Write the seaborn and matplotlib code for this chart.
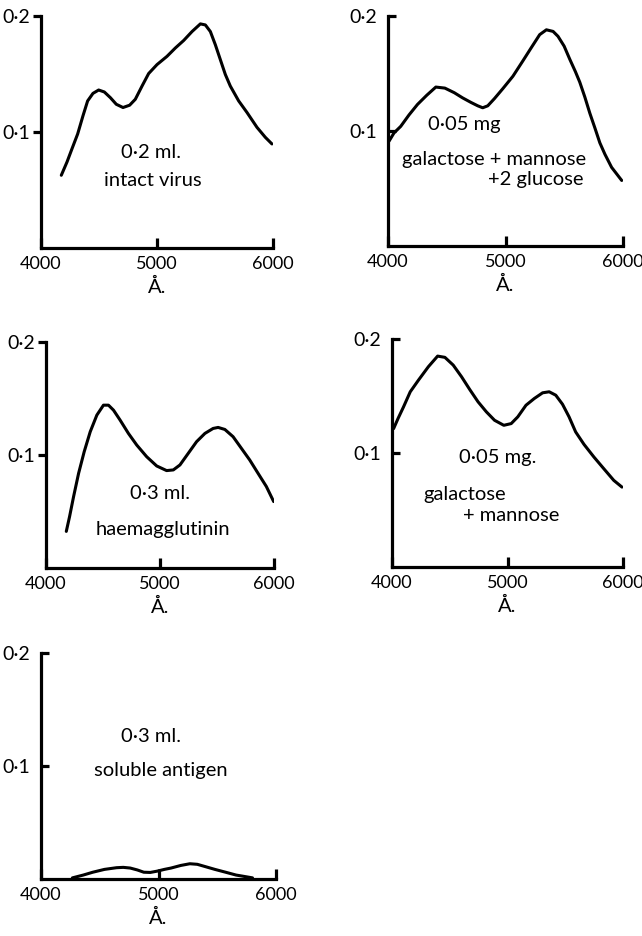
import matplotlib
matplotlib.use("Agg")
import matplotlib.pyplot as plt
import seaborn as sns
import pandas as pd

# ---- data ----
virus_x = [4175, 4224, 4267, 4316, 4362, 4402, 4448, 4497, 4546, 4598, 4649, 4707, 4764, 4813, 4871,
           4928, 5000, 5086, 5158, 5230, 5302, 5374, 5417, 5460, 5503, 5546, 5589, 5632, 5704, 5776,
           5862, 5934, 5991]
virus_y = [0.0627, 0.0741, 0.0855, 0.0983, 0.114, 0.1268, 0.1333, 0.1362, 0.1345, 0.1296, 0.1239,
           0.1211, 0.1231, 0.1282, 0.1396, 0.1504, 0.1581, 0.1652, 0.1724, 0.1789, 0.1866, 0.1932,
           0.1923, 0.1866, 0.1752, 0.1624, 0.1496, 0.1396, 0.1268, 0.1168, 0.1040, 0.0954, 0.0897]

galman_glu_x = [4009, 4051, 4108, 4179, 4251, 4330, 4407, 4484, 4564, 4635, 4707, 4764, 4806, 4849,
                4906, 4977, 5063, 5148, 5219, 5291, 5348, 5405, 5447, 5499, 5547, 5595, 5632, 5675,
                5718, 5761, 5803, 5846, 5903, 5946, 5989]
galman_glu_y = [0.0912, 0.0983, 0.1040, 0.1140, 0.1231, 0.1311, 0.1382, 0.1373, 0.1333, 0.1288,
                0.1248, 0.1219, 0.1202, 0.1219, 0.1282, 0.1368, 0.1476, 0.1610, 0.1724, 0.1838,
                0.1880, 0.1866, 0.1823, 0.1738, 0.1624, 0.1516, 0.1425, 0.1296, 0.1154, 0.1026,
                0.0897, 0.0798, 0.0684, 0.0627, 0.0570]

haem_x = [4178, 4207, 4242, 4286, 4335, 4388, 4446, 4504, 4548, 4592, 4650, 4723, 4796, 4883, 4971,
          5058, 5117, 5175, 5248, 5321, 5394, 5466, 5510, 5569, 5641, 5714, 5787, 5860, 5933, 5997]
haem_y = [0.0324, 0.0456, 0.0632, 0.0838, 0.1029, 0.1206, 0.1353, 0.1441, 0.1441, 0.1397, 0.1309,
          0.1191, 0.1088, 0.0985, 0.0903, 0.0862, 0.0868, 0.0912, 0.1015, 0.1118, 0.1191, 0.1235,
          0.1244, 0.1226, 0.1162, 0.1059, 0.0956, 0.0838, 0.0721, 0.0588]

galman_x = [4014, 4052, 4100, 4158, 4229, 4315, 4395, 4458, 4530, 4602, 4673, 4745, 4817, 4888, 4968,
            5032, 5089, 5160, 5232, 5304, 5361, 5418, 5476, 5533, 5590, 5662, 5748, 5834, 5920, 5991]
galman_y = [0.1214, 0.1302, 0.1405, 0.1537, 0.1639, 0.1757, 0.1850, 0.1839, 0.1771, 0.1669, 0.1557,
            0.1449, 0.1361, 0.1287, 0.1243, 0.1258, 0.1317, 0.1419, 0.1478, 0.1528, 0.1537, 0.1507,
            0.1428, 0.1317, 0.1185, 0.1076, 0.0965, 0.0862, 0.0760, 0.0701]

sol_x = [4267, 4360, 4441, 4540, 4643, 4700, 4759, 4820, 4875, 4930, 4991, 5050, 5107, 5190, 5267,
         5330, 5397, 5480, 5571, 5660, 5745, 5800]
sol_y = [0.001, 0.0035, 0.006, 0.0085, 0.010, 0.0103, 0.0097, 0.0080, 0.006, 0.0058, 0.007, 0.0085,
         0.0097, 0.0120, 0.0135, 0.0130, 0.011, 0.0085, 0.006, 0.0035, 0.002, 0.001]

x_ticks = [4000, 5000, 6000]
x_tick_labels = ["4000", "5000", "6000"]
y_ticks = [0.1, 0.2]
y_tick_labels = ["0·1", "0·2"]
x_unit = "Å."

sns.set_theme(style="white")
plt.rcParams["font.family"] = ["Lato", "DejaVu Sans"]

W, H = 642, 936
fig = plt.figure(figsize=(W / 100, H / 100), dpi=100)
fig.patch.set_facecolor("white")


def make_ax(l, r, t, b):
    return fig.add_axes([l / W, 1 - b / H, (r - l) / W, (b - t) / H])


panels = [
    ((41, 273, 16, 248), virus_x, virus_y,
     [(4950, 0.082, "0·2 ml."), (4960, 0.058, "intact virus")], "out"),
    ((388, 623, 16, 246), galman_glu_x, galman_glu_y,
     [(4650, 0.106, "0·05 mg"), (4906, 0.075, "galactose + mannose"),
      (5255, 0.058, "+2 glucose")], "in"),
    ((46, 274, 342, 568), haem_x, haem_y,
     [(5000, 0.066, "0·3 ml."), (5029, 0.034, "haemagglutinin")], "out"),
    ((392, 623, 339, 567), galman_x, galman_y,
     [(4917, 0.096, "0·05 mg."), (4630, 0.064, "galactose"),
      (5032, 0.045, "+ mannose")], "in"),
    ((41, 276, 653, 879), sol_x, sol_y,
     [(4933, 0.126, "0·3 ml."), (5020, 0.096, "soluble antigen")], "in"),
]

for (l, r, t, b), xs, ys, texts, ydir in panels:
    ax = make_ax(l, r, t, b)
    df = pd.DataFrame({"wl": xs, "od": ys})
    sns.lineplot(data=df, x="wl", y="od", ax=ax, color="black", linewidth=2.2,
                 sort=False, solid_joinstyle="round", solid_capstyle="round")
    ax.set_xlim(4000, 6000)
    ax.set_ylim(0, 0.2)
    ax.set_facecolor("white")
    for s in ["top", "right"]:
        ax.spines[s].set_visible(False)
    for s in ["left", "bottom"]:
        ax.spines[s].set_visible(True)
        ax.spines[s].set_color("black")
        ax.spines[s].set_linewidth(2.3)
    ax.set_xticks(x_ticks)
    ax.set_xticklabels(x_tick_labels)
    ax.set_yticks(y_ticks)
    ax.set_yticklabels(y_tick_labels)
    ax.tick_params(axis="x", direction="in", length=7, width=2.3, pad=6,
                   labelsize=13, colors="black", bottom=True)
    ax.tick_params(axis="y", direction=ydir, length=6, width=2.3,
                   pad=(2 if ydir == "out" else 8),
                   labelsize=14, colors="black", left=True)
    ax.set_ylabel("")
    ax.set_xlabel(x_unit, fontsize=14.5, labelpad=4, color="black")
    ax.grid(False)
    for x, y, s in texts:
        ax.text(x, y, s, ha="center", va="center", fontsize=14.5, color="black")

fig.savefig("out.png", dpi=100, facecolor="white")
